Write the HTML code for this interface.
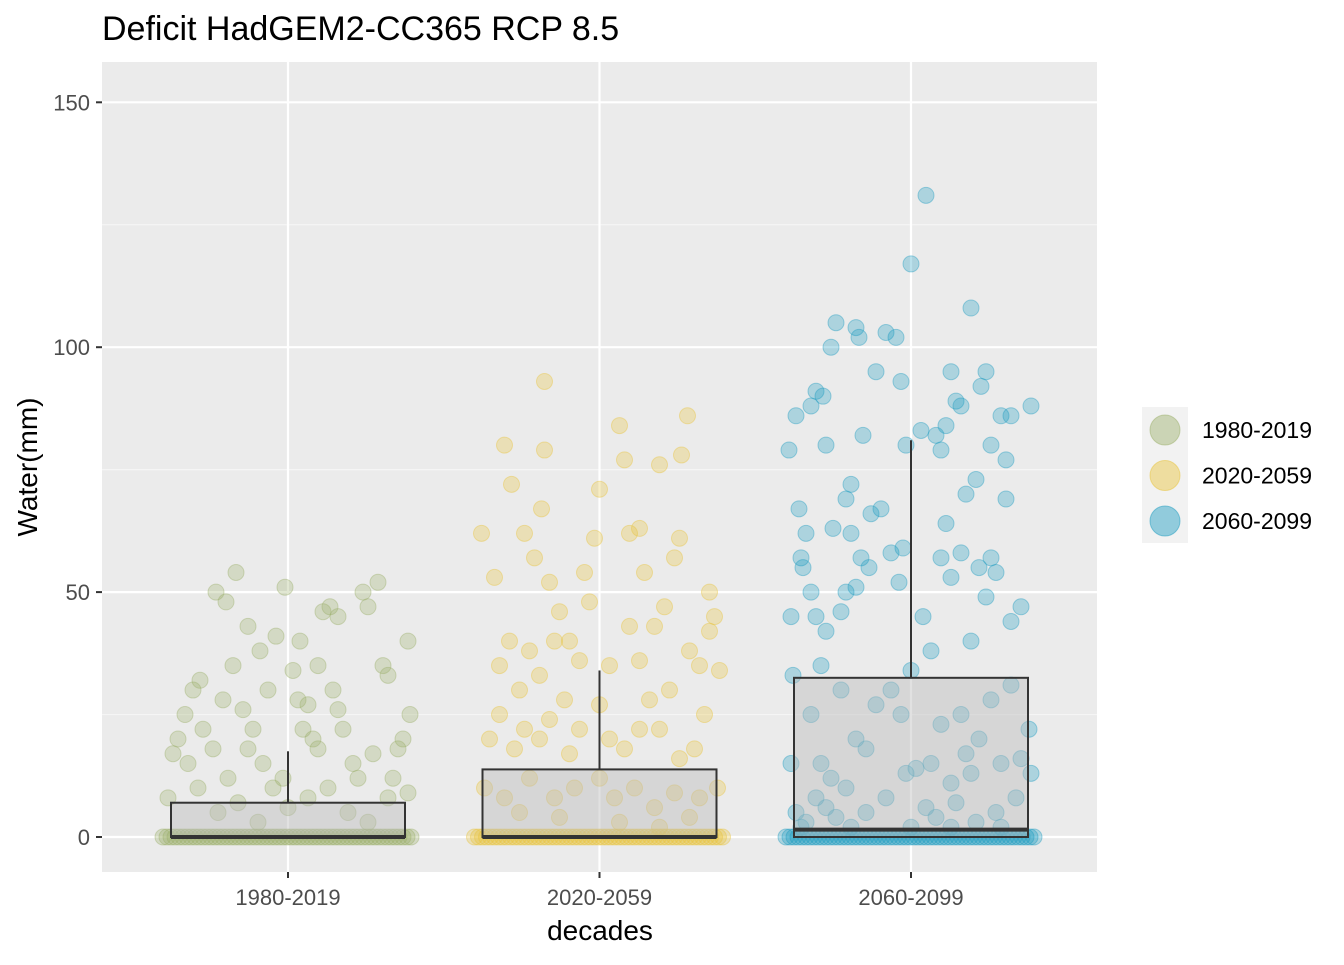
<!DOCTYPE html>
<html><head><meta charset="utf-8"><style>
body{margin:0;background:#fff;}
svg text{font-family:"Liberation Sans",Arial,sans-serif;}
</style></head><body>
<svg id="chart" width="1344" height="960" xmlns="http://www.w3.org/2000/svg">
<text x="102" y="40" font-size="34" fill="#000">Deficit HadGEM2-CC365 RCP 8.5</text>
<rect x="102" y="62" width="995" height="810" fill="#ebebeb"/>
<g id="grid"></g><g id="points"></g><g id="boxes"></g><g id="axes"></g>
<text x="600" y="940" font-size="28" text-anchor="middle" fill="#000">decades</text>
<text transform="translate(37,467) rotate(-90)" font-size="28" text-anchor="middle" fill="#000">Water(mm)</text>
<g id="legend">
<rect x="1142" y="407" width="46" height="136" fill="#f2f2f2"/>
</g>
</svg>
<script>
const categories=["1980-2019","2020-2059","2060-2099"];
const colors=["#9cb06a","#e8c43a","#1b9bc0"];
const yTicks=[0,50,100,150];
// jitter offsets in 1/312 of category spacing; values in mm
const jit1=[-115,-103,-95,-88,-72,-62,-52,-40,-28,-12,-3,5,12,20,35,42,50,75,80,90,95,100,120,122,115,-110,-100,-85,-75,-65,-55,-45,-35,-25,-15,-5,10,25,30,45,55,65,70,85,105,110,-120,-90,-70,-50,-30,0,20,40,60,80,100,120,-60,-20,15,50,30,-40];
const val1=[17,25,30,32,50,48,54,43,38,41,51,34,40,27,46,47,45,50,47,52,35,33,40,25,20,20,15,22,18,28,35,26,22,15,10,12,28,20,18,30,22,15,12,17,12,18,8,10,5,7,3,6,8,10,5,3,8,9,12,30,22,26,35,18];
const jit2=[-118,-105,-95,-88,-75,-65,-58,-55,-55,-50,-40,-30,-15,-10,0,-5,20,25,30,40,45,60,75,80,82,88,110,115,110,-100,-90,-80,-70,-60,-45,-35,-20,0,10,30,40,55,65,70,90,100,105,120,-110,-100,-85,-75,-60,-50,-30,-20,10,25,40,50,60,80,95,-115,-95,-70,-45,-25,0,15,35,55,75,100,118,-80,-40,20,60,90];
const val2=[62,53,80,72,62,57,67,93,79,52,46,40,54,48,71,61,84,77,62,63,54,76,57,61,78,86,50,45,42,35,40,30,38,33,40,28,36,27,35,43,36,43,47,30,38,35,25,34,20,25,18,22,20,24,17,22,20,18,22,28,22,16,18,10,8,12,8,10,12,8,10,6,9,8,10,5,4,3,2,4];
const jit3=[-122,-115,-112,-108,-105,-100,-95,-88,-85,-80,-78,-75,-65,-60,-55,-52,-48,-40,-35,-25,-15,-10,0,-5,15,10,25,30,35,40,45,50,60,65,70,75,80,90,95,100,120,-120,-110,-100,-95,-90,-85,-70,-65,-60,-55,-50,-42,-30,-20,-12,-8,0,12,20,30,35,40,50,55,60,68,75,80,85,95,100,110,-118,-100,-90,-80,-70,-55,-45,-35,-20,-10,5,20,30,40,50,55,60,68,80,90,100,110,118,-115,-105,-95,-85,-75,-65,-45,-25,-5,15,25,45,65,85,105,120,-120,-110,-60,0,40,90];
const val3=[79,86,67,55,62,88,91,90,80,100,63,105,69,72,104,102,82,66,95,103,102,93,117,80,131,83,82,79,84,95,89,88,108,73,92,95,80,86,77,86,88,45,57,50,45,35,42,46,50,62,51,57,55,67,58,52,59,34,45,38,57,64,53,58,70,40,55,49,57,54,69,44,47,33,25,15,12,30,20,18,27,30,25,14,15,23,11,25,17,13,20,28,15,31,16,22,5,3,8,6,4,10,5,8,13,6,4,7,3,5,8,13,15,2,2,2,2,2];
const zeroJit=[-125,-121,-117,-113,-109,-105,-101,-97,-93,-89,-85,-81,-77,-73,-69,-65,-61,-57,-53,-49,-45,-41,-37,-33,-29,-25,-21,-17,-13,-9,-5,-1,3,7,11,15,19,23,27,31,35,39,43,47,51,55,59,63,67,71,75,79,83,87,91,95,99,103,107,111,115,119,123];
const boxQ1=[0,0,0];
const boxMed=[0,0,1.5];
const boxQ3=[7,13.8,32.5];
const whiskHi=[17.5,34,81];
const whiskLo=[0,0,0];

const NS="http://www.w3.org/2000/svg";
const y=v=>837-v*4.898;
const x=i=>288+i*311.5;
function mk(tag,attrs,parent){const e=document.createElementNS(NS,tag);for(const k in attrs)e.setAttribute(k,attrs[k]);parent.appendChild(e);return e;}
const grid=document.getElementById('grid'),pts=document.getElementById('points'),boxes=document.getElementById('boxes'),axes=document.getElementById('axes');
for(let k=0;k<yTicks.length;k++){const m=yTicks[k]+25;if(y(m)>62){const l=mk('line',{x1:102,x2:1097,y1:y(m),y2:y(m),stroke:'#f5f5f5','stroke-width':1.2},grid);}}
yTicks.forEach(t=>{const l=mk('line',{x1:102,x2:1097,y1:y(t),y2:y(t),stroke:'#fff','stroke-width':2.2},grid);

const tk=mk('line',{x1:96,x2:102,y1:y(t),y2:y(t),stroke:'#333','stroke-width':2},axes);

const tx=mk('text',{x:90,y:y(t)+8,'font-size':22,'text-anchor':'end',fill:'#4d4d4d'},axes);tx.textContent=t;
});
categories.forEach((c,i)=>{const l=mk('line',{x1:x(i),x2:x(i),y1:62,y2:872,stroke:'#fff','stroke-width':2.2},grid);

const tk=mk('line',{x1:x(i),x2:x(i),y1:872,y2:878,stroke:'#333','stroke-width':2},axes);

const tx=mk('text',{x:x(i),y:905,'font-size':22,'text-anchor':'middle',fill:'#4d4d4d'},axes);tx.textContent=c;
});
const J=[jit1,jit2,jit3],V=[val1,val2,val3];
J.forEach((js,i)=>{
  zeroJit.forEach(j=>{const p=mk('circle',{cx:x(i)+j,cy:y(0),r:8,fill:colors[i],'fill-opacity':0.3,stroke:colors[i],'stroke-opacity':0.4},pts);
  });
  js.forEach((j,k)=>{const p=mk('circle',{cx:x(i)+j,cy:y(V[i][k]),r:8,fill:colors[i],'fill-opacity':0.3,stroke:colors[i],'stroke-opacity':0.4},pts);
  });
});
categories.forEach((c,i)=>{const hw=117;
const wl=mk('line',{x1:x(i),x2:x(i),y1:y(boxQ3[i]),y2:y(whiskHi[i]),stroke:'#333','stroke-width':2},boxes);

const b=mk('rect',{x:x(i)-hw,y:y(boxQ3[i]),width:2*hw,height:y(boxQ1[i])-y(boxQ3[i]),fill:'#bdbdbd','fill-opacity':0.45,stroke:'#333','stroke-width':2},boxes);

const md=mk('line',{x1:x(i)-hw,x2:x(i)+hw,y1:y(boxMed[i]),y2:y(boxMed[i]),stroke:'#333','stroke-width':4},boxes);
});
const lg=document.getElementById('legend');
categories.forEach((c,i)=>{const cy=430+i*45.5;
const p=mk('circle',{cx:1165,cy:cy,r:15,fill:colors[i],'fill-opacity':0.45,stroke:colors[i],'stroke-opacity':0.5},lg);

const t=mk('text',{x:1202,y:cy+8,'font-size':23,fill:'#000'},lg);t.textContent=c;
});
</script>
</body></html>
